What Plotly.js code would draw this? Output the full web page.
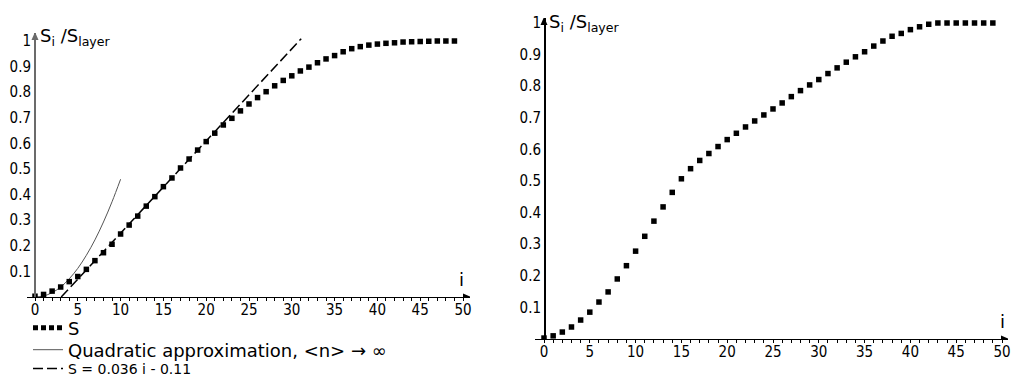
<!DOCTYPE html>
<html>
<head>
<meta charset="utf-8">
<script src="https://cdn.plot.ly/plotly-3.0.1.min.js"></script>
<style>html,body{margin:0;padding:0;background:#fff}#chart{width:1012px;height:376px}</style>
</head>
<body>
<div id="chart"></div>
<script>
// ---- data ----
const layerIndex = [0,1,2,3,4,5,6,7,8,9,10,11,12,13,14,15,16,17,18,19,20,21,22,23,24,25,26,27,28,29,30,31,32,33,34,35,36,37,38,39,40,41,42,43,44,45,46,47,48,49];
const leftS = [0.003,0.01,0.023,0.039,0.06,0.08,0.108,0.142,0.173,0.206,0.246,0.281,0.316,0.355,0.392,0.431,0.465,0.504,0.539,0.574,0.607,0.64,0.672,0.698,0.727,0.754,0.779,0.802,0.825,0.846,0.864,0.883,0.898,0.915,0.93,0.943,0.958,0.97,0.978,0.984,0.988,0.991,0.993,0.996,0.997,0.998,0.999,1.0,1.0,1.0];
const rightS = [0.003,0.01,0.022,0.038,0.06,0.085,0.117,0.149,0.19,0.232,0.278,0.325,0.373,0.418,0.464,0.507,0.539,0.565,0.587,0.609,0.631,0.651,0.671,0.69,0.709,0.728,0.747,0.767,0.786,0.804,0.821,0.84,0.858,0.876,0.893,0.909,0.927,0.943,0.958,0.967,0.979,0.988,0.996,1.0,1.0,1.0,1.0,1.0,1.0,1.0];
const quadX = [0,1,2,3,4,5,6,7,8,9,10];
const quadY = [0,0.004,0.017,0.039,0.071,0.112,0.163,0.223,0.293,0.372,0.46];
const fitX = [3.06, 31.1];
const fitY = [0, 1.009];
const yTickVals = [0.1,0.2,0.3,0.4,0.5,0.6,0.7,0.8,0.9,1];
const yTickText = ['0.1','0.2','0.3','0.4','0.5','0.6','0.7','0.8','0.9','1'];
const legendNames = ['S', 'Quadratic approximation, &lt;n&gt; → ∞', 'S = 0.036 i - 0.11'];
const yTitle = 'S<sub>i</sub> /S<sub>layer</sub>';
const xTitle = 'i';

// ---- layout helpers ----
const W = 1012, H = 376;
const L = {start:27, x0:35, x1:470, pxPerUnit:8.56, yBot:297, yTop:33, pxPerOne:256, titleY:37, iX:49.8};
const R = {start:535, x0:544, x1:1008, pxPerUnit:9.16, yBot:339, yTop:18, pxPerOne:316, titleY:23, iX:50};
function xdom(p){return [p.start/W, p.x1/W];}
function xrng(p){return [-(p.x0-p.start)/p.pxPerUnit, (p.x1-p.x0)/p.pxPerUnit];}
function ydom(p){return [(H-p.yBot)/H, (H-p.yTop)/H];}
function xmax(p){return (p.x1-p.x0)/p.pxPerUnit;}
function ymax(p){return (p.yBot-p.yTop)/p.pxPerOne;}

const FONT = 'DejaVu Sans Condensed, DejaVu Sans, Verdana, sans-serif';

const traces = [
  {x: quadX, y: quadY, xaxis:'x', yaxis:'y', mode:'lines', line:{color:'#555', width:1, shape:'spline'}, name: legendNames[1], legend:'legend2'},
  {x: fitX, y: fitY, xaxis:'x', yaxis:'y', mode:'lines', line:{color:'#000', width:1.5, dash:'10px,4px'}, name: legendNames[2], legend:'legend3'},
  {x: layerIndex, y: leftS, xaxis:'x', yaxis:'y', mode:'markers', marker:{symbol:'square', size:5.5, color:'#000', line:{width:0}}, showlegend:false, legendgroup:'S'},
  {x: [null], y: [null], xaxis:'x', yaxis:'y', mode:'lines', line:{color:'#000', width:5, dash:'5px,3px'}, name: legendNames[0], legendgroup:'S', legend:'legend'},
  {x: layerIndex, y: rightS, xaxis:'x2', yaxis:'y2', mode:'markers', marker:{symbol:'square', size:5.5, color:'#000', line:{width:0}}, showlegend:false}
];

function xAxis(p, anchor){
  return {domain:xdom(p), range:xrng(p), anchor:anchor, showline:true, linecolor:'#000', linewidth:1,
    ticks:'outside', ticklen:3, tickwidth:1, tickcolor:'#000', tick0:0, dtick:5,
    minor:{dtick:1, ticks:'outside', ticklen:3, tickwidth:1, tickcolor:'#000'},
    showgrid:false, zeroline:false, tickfont:{family:FONT, size:15, color:'#000'}, ticklabelstandoff:-4,
    fixedrange:true, automargin:false};
}
function xOverlay(p, over, anchor){
  return {overlaying:over, anchor:anchor, range:xrng(p), showline:false, showticklabels:false,
    ticks:'inside', ticklen:3, tickwidth:1, tickcolor:'#000', tick0:0, dtick:5,
    minor:{dtick:1, ticks:'inside', ticklen:3, tickwidth:1, tickcolor:'#000'},
    showgrid:false, zeroline:false, automargin:false};
}
function yAxis(p, color, width){
  return {domain:ydom(p), range:[0,ymax(p)], anchor:'free', position:p.x0/W, showline:true, linecolor:color, linewidth:width,
    ticks:'', tickvals:yTickVals, ticktext:yTickText, showgrid:false, zeroline:false,
    tickfont:{family:FONT, size:15, color:'#000'}, ticklabelstandoff:0, fixedrange:true, automargin:false};
}
function axisText(p, xr, yr){
  return [
    {xref:xr, yref:yr, x:0, y:(p.yBot-p.titleY)/p.pxPerOne, text:yTitle, showarrow:false, xanchor:'left', yanchor:'middle', xshift:3, font:{size:18, color:'#000'}},
    {xref:xr, yref:yr, x:p.iX, y:0, text:xTitle, showarrow:false, xanchor:'center', yanchor:'bottom', yshift:5, font:{size:18, color:'#000'}}
  ];
}
function arrowHeads(p, xr, yr, ycolor){
  return [
    {type:'path', xref:xr, yref:yr, xsizemode:'pixel', ysizemode:'pixel', xanchor:xmax(p), yanchor:0,
      path:'M1,0 L-7,-3.5 L-7,3.5 Z', fillcolor:'#000', line:{width:0}},
    {type:'path', xref:xr, yref:yr, xsizemode:'pixel', ysizemode:'pixel', xanchor:0, yanchor:ymax(p),
      path:'M0,1 L-3.5,-7 L3.5,-7 Z', fillcolor:ycolor, line:{width:0}}
  ];
}
function legendRow(centerY, size){
  return {x:28/W, y:1-centerY/H, xanchor:'left', yanchor:'middle', bgcolor:'rgba(0,0,0,0)', borderwidth:0,
    font:{size:size, color:'#000'}, tracegroupgap:0, itemwidth:30};
}

const layout = {
  width:W, height:H, margin:{l:0,r:0,t:0,b:0,pad:0,autoexpand:false},
  paper_bgcolor:'#fff', plot_bgcolor:'rgba(0,0,0,0)',
  font:{family:'DejaVu Sans, Verdana, sans-serif', size:14, color:'#000'},
  xaxis: xAxis(L,'y'), yaxis: yAxis(L,'#6b6b6b',2),
  xaxis2: xAxis(R,'y2'), yaxis2: yAxis(R,'#000',1.5),
  xaxis3: xOverlay(L,'x','y'), xaxis4: xOverlay(R,'x2','y2'),
  showlegend:true,
  legend: legendRow(328, 18),
  legend2: legendRow(350, 18),
  legend3: legendRow(369, 14),
  annotations: axisText(L,'x','y').concat(axisText(R,'x2','y2')),
  shapes: arrowHeads(L,'x','y','#6b6b6b').concat(arrowHeads(R,'x2','y2','#000'))
};

Plotly.newPlot('chart', traces, layout, {displayModeBar:false, staticPlot:true});
</script>
</body>
</html>
